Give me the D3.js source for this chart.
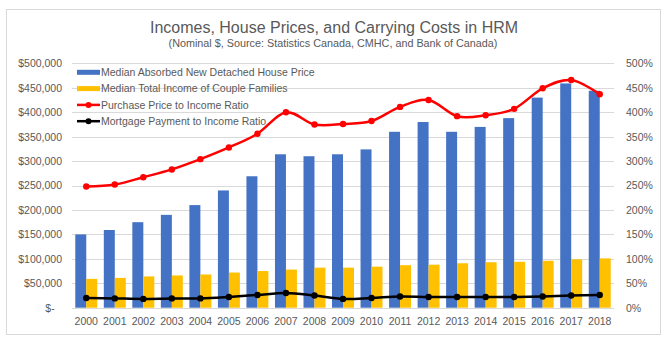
<!DOCTYPE html>
<html>
<head>
<meta charset="utf-8">
<script src="https://cdn.jsdelivr.net/npm/d3@7"></script>
<style>
  body { margin: 0; background: #fff; }
  text { font-family: "Liberation Sans", Arial, sans-serif; fill: #595959; }
</style>
</head>
<body>
<svg id="chart" width="667" height="342"></svg>
<script>
const years = ["2000","2001","2002","2003","2004","2005","2006","2007","2008","2009",
               "2010","2011","2012","2013","2014","2015","2016","2017","2018"];
const housePrice = [150000,159000,175000,190000,210000,240000,269000,314000,310000,314000,
                    324000,360000,380000,360000,370000,388000,430000,459000,444000];
const coupleIncome = [59000,61000,64000,66000,68000,72000,75000,78000,82000,82000,
                      84000,87000,88000,91000,93000,94000,96000,99000,101000];
const priceRatio = [2.48,2.52,2.67,2.83,3.04,3.28,3.56,4.00,3.75,3.76,
                    3.82,4.11,4.25,3.92,3.94,4.07,4.49,4.66,4.37];
const mortgageRatio = [0.20,0.19,0.18,0.19,0.19,0.22,0.26,0.30,0.25,0.18,
                       0.20,0.23,0.22,0.22,0.22,0.22,0.23,0.25,0.26];
const leftTicks = [0,50000,100000,150000,200000,250000,300000,350000,400000,450000,500000];
const rightTicks = [0,0.5,1,1.5,2,2.5,3,3.5,4,4.5,5];

const svg = d3.select("#chart");
const plotLeft = 72, plotRight = 614, plotTop = 63.4, plotBottom = 307.7;

// frame
svg.append("rect")
    .attr("x", 6.5).attr("y", 9.5).attr("width", 654).attr("height", 325)
    .attr("fill", "#fff").attr("stroke", "#d9d9d9");

// titles
svg.append("text").attr("x", 334).attr("y", 33).attr("text-anchor", "middle")
    .style("font-size", "16px")
    .text("Incomes, House Prices, and Carrying Costs in HRM");
svg.append("text").attr("x", 333).attr("y", 47).attr("text-anchor", "middle")
    .style("font-size", "10.8px")
    .text("(Nominal $, Source: Statistics Canada, CMHC, and Bank of Canada)");

// scales
const x0 = d3.scaleBand().domain(years).range([plotLeft, plotRight])
    .paddingInner(0.23).paddingOuter(0.115);
const x1 = d3.scaleBand().domain(["price", "income"]).range([0, x0.bandwidth()]);
const xc = d => x0(d) + x0.bandwidth() / 2;
const yL = d3.scaleLinear().domain([0, 500000]).range([plotBottom, plotTop]);
const yR = d3.scaleLinear().domain([0, 5]).range([plotBottom, plotTop]);

// gridlines
svg.append("g").selectAll("line").data(leftTicks).enter().append("line")
    .attr("x1", plotLeft).attr("x2", plotRight)
    .attr("y1", d => Math.round(yL(d)) + 0.5).attr("y2", d => Math.round(yL(d)) + 0.5)
    .attr("stroke", "#d9d9d9").attr("stroke-width", 1);

// left axis
const fmt = d3.format("$,");
const yAxisL = d3.axisLeft(yL).tickValues(leftTicks).tickSize(0).tickPadding(10)
    .tickFormat(d => d === 0 ? "$-\u2002\u2009" : fmt(d));
svg.append("g").attr("transform", `translate(${plotLeft},0)`).call(yAxisL)
    .call(g => g.select(".domain").remove())
    .selectAll("text").style("font-size", "10.5px").attr("fill", "#595959");

// right axis
const yAxisR = d3.axisRight(yR).tickValues(rightTicks).tickSize(0).tickPadding(12)
    .tickFormat(d3.format(".0%"));
svg.append("g").attr("transform", `translate(${plotRight},0)`).call(yAxisR)
    .call(g => g.select(".domain").remove())
    .selectAll("text").style("font-size", "10.5px").attr("fill", "#595959");

// x axis
const xAxis = d3.axisBottom(x0).tickSize(0).tickPadding(10);
svg.append("g").attr("transform", `translate(0,${plotBottom})`).call(xAxis)
    .call(g => g.select(".domain").remove())
    .selectAll("text").style("font-size", "10.5px").attr("fill", "#595959");

// bars
svg.append("g").selectAll("rect").data(years).enter().append("rect")
    .attr("x", d => x0(d) + x1("price"))
    .attr("width", x1.bandwidth())
    .attr("y", (d, i) => yL(housePrice[i]))
    .attr("height", (d, i) => plotBottom - yL(housePrice[i]))
    .attr("fill", "#4472c4");
svg.append("g").selectAll("rect").data(years).enter().append("rect")
    .attr("x", d => x0(d) + x1("income"))
    .attr("width", x1.bandwidth())
    .attr("y", (d, i) => yL(coupleIncome[i]))
    .attr("height", (d, i) => plotBottom - yL(coupleIncome[i]))
    .attr("fill", "#ffc000");

// ratio lines
const line = d3.line().x((d, i) => xc(years[i])).y(d => yR(d))
    .curve(d3.curveCardinal.tension(0));

function ratioLine(values, color) {
  svg.append("path").datum(values)
      .attr("d", line).attr("fill", "none")
      .attr("stroke", color).attr("stroke-width", 2.5);
  svg.append("g").selectAll("circle").data(values).enter().append("circle")
      .attr("cx", (d, i) => xc(years[i])).attr("cy", d => yR(d))
      .attr("r", 3.2).attr("fill", color);
}
ratioLine(priceRatio, "#ff0000");
ratioLine(mortgageRatio, "#000000");

// legend
const legendItems = [
  { label: "Median Absorbed New Detached House Price", color: "#4472c4", type: "bar" },
  { label: "Median Total Income of Couple Families", color: "#ffc000", type: "bar" },
  { label: "Purchase Price to Income Ratio", color: "#ff0000", type: "line" },
  { label: "Mortgage Payment to Income Ratio", color: "#000000", type: "line" }
];
const legend = svg.append("g").selectAll("g").data(legendItems).enter().append("g")
    .attr("transform", (d, i) => `translate(77,${72.3 + i * 16.3})`);
legend.filter(d => d.type === "bar").append("rect")
    .attr("x", 0).attr("y", -2.5).attr("width", 23).attr("height", 5)
    .attr("fill", d => d.color);
legend.filter(d => d.type === "line").append("line")
    .attr("x1", 0).attr("x2", 23).attr("y1", 0).attr("y2", 0)
    .attr("stroke", d => d.color).attr("stroke-width", 2.5);
legend.filter(d => d.type === "line").append("circle")
    .attr("cx", 11.5).attr("cy", 0).attr("r", 3).attr("fill", d => d.color);
legend.append("text")
    .attr("x", 24).attr("y", 0).attr("dy", "0.35em")
    .style("font-size", "10.5px")
    .text(d => d.label);
</script>
</body>
</html>
